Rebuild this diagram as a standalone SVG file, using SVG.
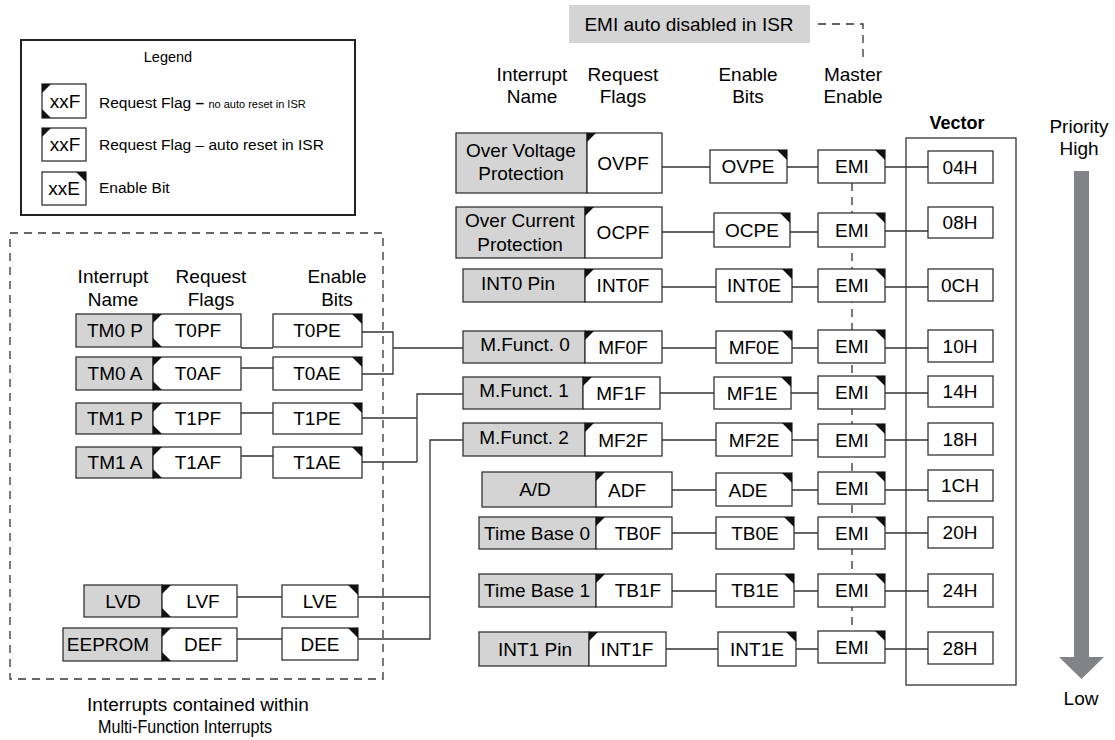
<svg xmlns="http://www.w3.org/2000/svg" xmlns:xlink="http://www.w3.org/1999/xlink" width="1115" height="740" viewBox="0 0 1115 740">
<style>
.g{fill:#d4d4d4;stroke:#333;stroke-width:1.3}
.w{fill:#fff;stroke:#333;stroke-width:1.3}
.t{font-family:"Liberation Sans",Arial,sans-serif;font-size:19px;fill:#000;text-anchor:middle}
.s{font-family:"Liberation Sans",Arial,sans-serif;font-size:15.5px;fill:#000}
.c{fill:none;stroke:#333;stroke-width:1.3}
.d{fill:none;stroke:#333;stroke-width:1.3;stroke-dasharray:8 6}
.k{fill:#111}
</style>
<defs>
<path id="tl" class="k" d="M0,0 h9 L0,9 z"/>
<path id="bl" class="k" d="M0,0 h9 L0,-9 z"/>
<path id="tr" class="k" d="M0,0 h-10 L0,10 z"/>
</defs>

<!-- Legend -->
<g id="legend">
<rect x="21" y="40" width="334" height="175" fill="#fff" stroke="#222" stroke-width="2"/>
<text class="s" x="168" y="62" text-anchor="middle" style="font-size:14.5px">Legend</text>
<rect class="w" x="42" y="84" width="44" height="34"/><use xlink:href="#tl" x="42" y="84"/><use xlink:href="#bl" x="42" y="118"/>
<text class="t" x="65" y="108">xxF</text>
<text class="s" x="99" y="108">Request Flag <tspan font-weight="bold">–</tspan> <tspan style="font-size:11px">no auto reset in ISR</tspan></text>
<rect class="w" x="42" y="128" width="44" height="33"/><use xlink:href="#tl" x="42" y="128"/>
<text class="t" x="65" y="151">xxF</text>
<text class="s" x="99" y="150">Request Flag – auto reset in ISR</text>
<rect class="w" x="42" y="172" width="44" height="33"/><use xlink:href="#tr" x="86" y="172"/>
<text class="t" x="64" y="195">xxE</text>
<text class="s" x="99" y="193">Enable Bit</text>
</g>

<!-- Multi-function group -->
<g id="mf-group">
<rect class="d" x="10" y="233" width="373" height="446"/>
<text class="t" x="198" y="711">Interrupts contained within</text>
<text class="t" x="185" y="733" textLength="174" lengthAdjust="spacingAndGlyphs">Multi-Function Interrupts</text>
</g>

<!-- Headers -->
<g id="headers">
<text class="t" x="113" y="283">Interrupt</text><text class="t" x="113" y="306">Name</text>
<text class="t" x="211" y="283">Request</text><text class="t" x="211" y="306">Flags</text>
<text class="t" x="337" y="283">Enable</text><text class="t" x="337" y="306">Bits</text>
<text class="t" x="532" y="81">Interrupt</text><text class="t" x="532" y="103">Name</text>
<text class="t" x="623" y="81">Request</text><text class="t" x="623" y="103">Flags</text>
<text class="t" x="748" y="81">Enable</text><text class="t" x="748" y="103">Bits</text>
<text class="t" x="853" y="81">Master</text><text class="t" x="853" y="103">Enable</text>
<text class="t" x="957" y="129" font-weight="bold" style="font-size:18px">Vector</text>
<text class="t" x="1079" y="133">Priority</text><text class="t" x="1079" y="155">High</text>
<text class="t" x="1081" y="705">Low</text>
</g>

<!-- Connectors -->
<g id="connectors">
<path class="d" d="M818,24 H863 V62"/>
<path class="d" d="M852,183 V631"/>
<!-- left -->
<path class="c" d="M241,348 H273 M241,368 H273 M241,413 H273 M241,456 H273 M237,597 H282 M237,639 H282"/>
<path class="c" d="M362,332 H393 V374 H362 M393,348 H463"/>
<path class="c" d="M362,418 H417 M362,462 H417 M417,462 V394 H463"/>
<path class="c" d="M358,597 H430 M358,639 H430 V440 H463"/>
<!-- right rows -->
<path class="c" d="M662,167 H710 M787,167 H818 M885,167 H928"/>
<path class="c" d="M662,232 H714 M790,232 H818 M885,231 H928"/>
<path class="c" d="M662,287 H716 M792,287 H818 M885,287 H928"/>
<path class="c" d="M662,348 H716 M792,348 H818 M885,348 H928"/>
<path class="c" d="M660,393 H714 M791,393 H818 M885,393 H928"/>
<path class="c" d="M662,440 H716 M792,440 H818 M885,440 H928"/>
<path class="c" d="M672,490 H716 M792,490 H818 M885,490 H928"/>
<path class="c" d="M672,533 H716 M794,533 H818 M885,533 H928"/>
<path class="c" d="M672,591 H716 M794,591 H818 M885,591 H928"/>
<path class="c" d="M666,649 H718 M796,649 H818 M885,649 H928"/>
</g>

<!-- EMI note -->
<g id="emi-note">
<rect x="569" y="5" width="241" height="38" fill="#d4d4d4"/>
<text class="t" x="689" y="31">EMI auto disabled in ISR</text>
</g>

<!-- Left rows -->
<g id="tm0p">
<rect class="g" x="76" y="314" width="77" height="33"/><text class="t" x="115" y="337">TM0 P</text>
<rect class="w" x="153" y="314" width="88" height="33"/><use xlink:href="#tl" x="153" y="314"/><use xlink:href="#bl" x="153" y="347"/><text class="t" x="198" y="337">T0PF</text>
<rect class="w" x="273" y="314" width="89" height="33"/><use xlink:href="#tr" x="362" y="314"/><text class="t" x="317" y="337">T0PE</text>
</g>
<g id="tm0a">
<rect class="g" x="76" y="357" width="77" height="33"/><text class="t" x="115" y="380">TM0 A</text>
<rect class="w" x="153" y="357" width="88" height="33"/><use xlink:href="#tl" x="153" y="357"/><use xlink:href="#bl" x="153" y="390"/><text class="t" x="198" y="380">T0AF</text>
<rect class="w" x="273" y="357" width="89" height="33"/><use xlink:href="#tr" x="362" y="357"/><text class="t" x="317" y="380">T0AE</text>
</g>
<g id="tm1p">
<rect class="g" x="76" y="403" width="77" height="31"/><text class="t" x="115" y="425">TM1 P</text>
<rect class="w" x="153" y="403" width="88" height="31"/><use xlink:href="#tl" x="153" y="403"/><use xlink:href="#bl" x="153" y="434"/><text class="t" x="198" y="425">T1PF</text>
<rect class="w" x="273" y="403" width="89" height="31"/><use xlink:href="#tr" x="362" y="403"/><text class="t" x="317" y="425">T1PE</text>
</g>
<g id="tm1a">
<rect class="g" x="76" y="447" width="77" height="31"/><text class="t" x="115" y="469">TM1 A</text>
<rect class="w" x="153" y="447" width="88" height="31"/><use xlink:href="#tl" x="153" y="447"/><use xlink:href="#bl" x="153" y="478"/><text class="t" x="198" y="469">T1AF</text>
<rect class="w" x="273" y="447" width="89" height="31"/><use xlink:href="#tr" x="362" y="447"/><text class="t" x="317" y="469">T1AE</text>
</g>
<g id="lvd">
<rect class="g" x="84" y="585" width="78" height="32"/><text class="t" x="123" y="608">LVD</text>
<rect class="w" x="162" y="585" width="75" height="32"/><use xlink:href="#tl" x="162" y="585"/><use xlink:href="#bl" x="162" y="617"/><text class="t" x="203" y="608">LVF</text>
<rect class="w" x="282" y="585" width="76" height="32"/><use xlink:href="#tr" x="358" y="585"/><text class="t" x="320" y="608">LVE</text>
</g>
<g id="eeprom">
<rect class="g" x="63" y="628" width="99" height="33"/><text class="t" x="108" y="651">EEPROM</text>
<rect class="w" x="162" y="628" width="75" height="33"/><use xlink:href="#tl" x="162" y="628"/><use xlink:href="#bl" x="162" y="661"/><text class="t" x="203" y="651">DEF</text>
<rect class="w" x="282" y="628" width="76" height="32"/><use xlink:href="#tr" x="358" y="628"/><text class="t" x="320" y="651">DEE</text>
</g>

<!-- Right rows -->
<g id="ovp">
<rect class="g" x="456" y="133" width="131" height="60"/><text class="t" x="521" y="157">Over Voltage</text><text class="t" x="521" y="180">Protection</text>
<rect class="w" x="587" y="133" width="75" height="60"/><use xlink:href="#tl" x="587" y="133"/><text class="t" x="623" y="170">OVPF</text>
<rect class="w" x="710" y="150" width="77" height="33"/><use xlink:href="#tr" x="787" y="150"/><text class="t" x="748" y="173">OVPE</text>
</g>
<g id="ocp">
<rect class="g" x="456" y="207" width="129" height="51"/><text class="t" x="520" y="227">Over Current</text><text class="t" x="520" y="251">Protection</text>
<rect class="w" x="585" y="207" width="77" height="51"/><use xlink:href="#tl" x="585" y="207"/><text class="t" x="623" y="239">OCPF</text>
<rect class="w" x="714" y="213" width="76" height="34"/><use xlink:href="#tr" x="790" y="213"/><text class="t" x="752" y="237">OCPE</text>
</g>
<g id="int0">
<rect class="g" x="463" y="269" width="122" height="33"/><text class="t" x="518" y="290">INT0 Pin</text>
<rect class="w" x="585" y="269" width="77" height="33"/><use xlink:href="#tl" x="585" y="269"/><text class="t" x="623" y="292">INT0F</text>
<rect class="w" x="716" y="269" width="76" height="33"/><use xlink:href="#tr" x="792" y="269"/><text class="t" x="754" y="292">INT0E</text>
</g>
<g id="mf0">
<rect class="g" x="463" y="331" width="122" height="32"/><text class="t" x="525" y="351">M.Funct. 0</text>
<rect class="w" x="585" y="331" width="77" height="32"/><use xlink:href="#tl" x="585" y="331"/><text class="t" x="623" y="354">MF0F</text>
<rect class="w" x="716" y="331" width="76" height="32"/><use xlink:href="#tr" x="792" y="331"/><text class="t" x="754" y="354">MF0E</text>
</g>
<g id="mf1">
<rect class="g" x="463" y="377" width="120" height="32"/><text class="t" x="524" y="397">M.Funct. 1</text>
<rect class="w" x="583" y="377" width="77" height="32"/><use xlink:href="#tl" x="583" y="377"/><text class="t" x="621" y="400">MF1F</text>
<rect class="w" x="714" y="377" width="77" height="32"/><use xlink:href="#tr" x="791" y="377"/><text class="t" x="752" y="400">MF1E</text>
</g>
<g id="mf2">
<rect class="g" x="463" y="423" width="122" height="33"/><text class="t" x="524" y="444">M.Funct. 2</text>
<rect class="w" x="585" y="423" width="77" height="33"/><use xlink:href="#tl" x="585" y="423"/><text class="t" x="623" y="447">MF2F</text>
<rect class="w" x="716" y="423" width="76" height="33"/><use xlink:href="#tr" x="792" y="423"/><text class="t" x="754" y="447">MF2E</text>
</g>
<g id="ad">
<rect class="g" x="482" y="472" width="114" height="35"/><text class="t" x="535" y="496">A/D</text>
<rect class="w" x="596" y="472" width="76" height="35"/><use xlink:href="#tl" x="596" y="472"/><text class="t" x="627" y="497">ADF</text>
<rect class="w" x="716" y="473" width="76" height="33"/><use xlink:href="#tr" x="792" y="473"/><text class="t" x="748" y="497">ADE</text>
</g>
<g id="tb0">
<rect class="g" x="479" y="517" width="117" height="32"/><text class="t" x="537" y="540">Time Base 0</text>
<rect class="w" x="596" y="517" width="76" height="32"/><use xlink:href="#tl" x="596" y="517"/><text class="t" x="638" y="540">TB0F</text>
<rect class="w" x="716" y="517" width="78" height="32"/><use xlink:href="#tr" x="794" y="517"/><text class="t" x="755" y="540">TB0E</text>
</g>
<g id="tb1">
<rect class="g" x="479" y="574" width="117" height="33"/><text class="t" x="537" y="597">Time Base 1</text>
<rect class="w" x="596" y="574" width="76" height="33"/><use xlink:href="#tl" x="596" y="574"/><text class="t" x="638" y="597">TB1F</text>
<rect class="w" x="716" y="574" width="78" height="33"/><use xlink:href="#tr" x="794" y="574"/><text class="t" x="755" y="597">TB1E</text>
</g>
<g id="int1">
<rect class="g" x="479" y="632" width="110" height="34"/><text class="t" x="535" y="656">INT1 Pin</text>
<rect class="w" x="589" y="632" width="77" height="34"/><use xlink:href="#tl" x="589" y="632"/><text class="t" x="627" y="656">INT1F</text>
<rect class="w" x="718" y="632" width="78" height="34"/><use xlink:href="#tr" x="796" y="632"/><text class="t" x="757" y="656">INT1E</text>
</g>

<!-- EMI master enables -->
<g id="emi">
<rect class="w" x="818" y="150" width="67" height="33"/><use xlink:href="#tr" x="885" y="150"/><text class="t" x="852" y="173">EMI</text>
<rect class="w" x="818" y="213" width="67" height="34"/><use xlink:href="#tr" x="885" y="213"/><text class="t" x="852" y="237">EMI</text>
<rect class="w" x="818" y="269" width="67" height="33"/><use xlink:href="#tr" x="885" y="269"/><text class="t" x="852" y="292">EMI</text>
<rect class="w" x="818" y="330" width="67" height="33"/><use xlink:href="#tr" x="885" y="330"/><text class="t" x="852" y="353">EMI</text>
<rect class="w" x="818" y="376" width="67" height="33"/><use xlink:href="#tr" x="885" y="376"/><text class="t" x="852" y="399">EMI</text>
<rect class="w" x="818" y="424" width="67" height="33"/><use xlink:href="#tr" x="885" y="424"/><text class="t" x="852" y="447">EMI</text>
<rect class="w" x="818" y="472" width="67" height="32"/><use xlink:href="#tr" x="885" y="472"/><text class="t" x="852" y="495">EMI</text>
<rect class="w" x="818" y="517" width="67" height="32"/><use xlink:href="#tr" x="885" y="517"/><text class="t" x="852" y="540">EMI</text>
<rect class="w" x="818" y="574" width="67" height="33"/><use xlink:href="#tr" x="885" y="574"/><text class="t" x="852" y="597">EMI</text>
<rect class="w" x="818" y="631" width="67" height="32"/><use xlink:href="#tr" x="885" y="631"/><text class="t" x="852" y="654">EMI</text>
</g>

<!-- Vector table -->
<g id="vector">
<rect class="c" x="906" y="138" width="110" height="547"/>
<rect class="w" x="928" y="151" width="65" height="32"/><text class="t" x="960" y="174">04H</text>
<rect class="w" x="928" y="207" width="65" height="31"/><text class="t" x="960" y="229">08H</text>
<rect class="w" x="928" y="269" width="65" height="32"/><text class="t" x="960" y="292">0CH</text>
<rect class="w" x="928" y="330" width="65" height="32"/><text class="t" x="960" y="353">10H</text>
<rect class="w" x="928" y="376" width="65" height="31"/><text class="t" x="960" y="398">14H</text>
<rect class="w" x="928" y="423" width="65" height="32"/><text class="t" x="960" y="446">18H</text>
<rect class="w" x="928" y="470" width="65" height="31"/><text class="t" x="960" y="492">1CH</text>
<rect class="w" x="928" y="517" width="65" height="31"/><text class="t" x="960" y="539">20H</text>
<rect class="w" x="928" y="574" width="65" height="33"/><text class="t" x="960" y="597">24H</text>
<rect class="w" x="928" y="632" width="65" height="32"/><text class="t" x="960" y="655">28H</text>
</g>

<!-- Priority arrow -->
<g id="priority">
<rect x="1074" y="171" width="15" height="487" fill="#828387"/>
<polygon points="1059,657 1104,657 1081.5,679" fill="#828387"/>
</g>
</svg>
